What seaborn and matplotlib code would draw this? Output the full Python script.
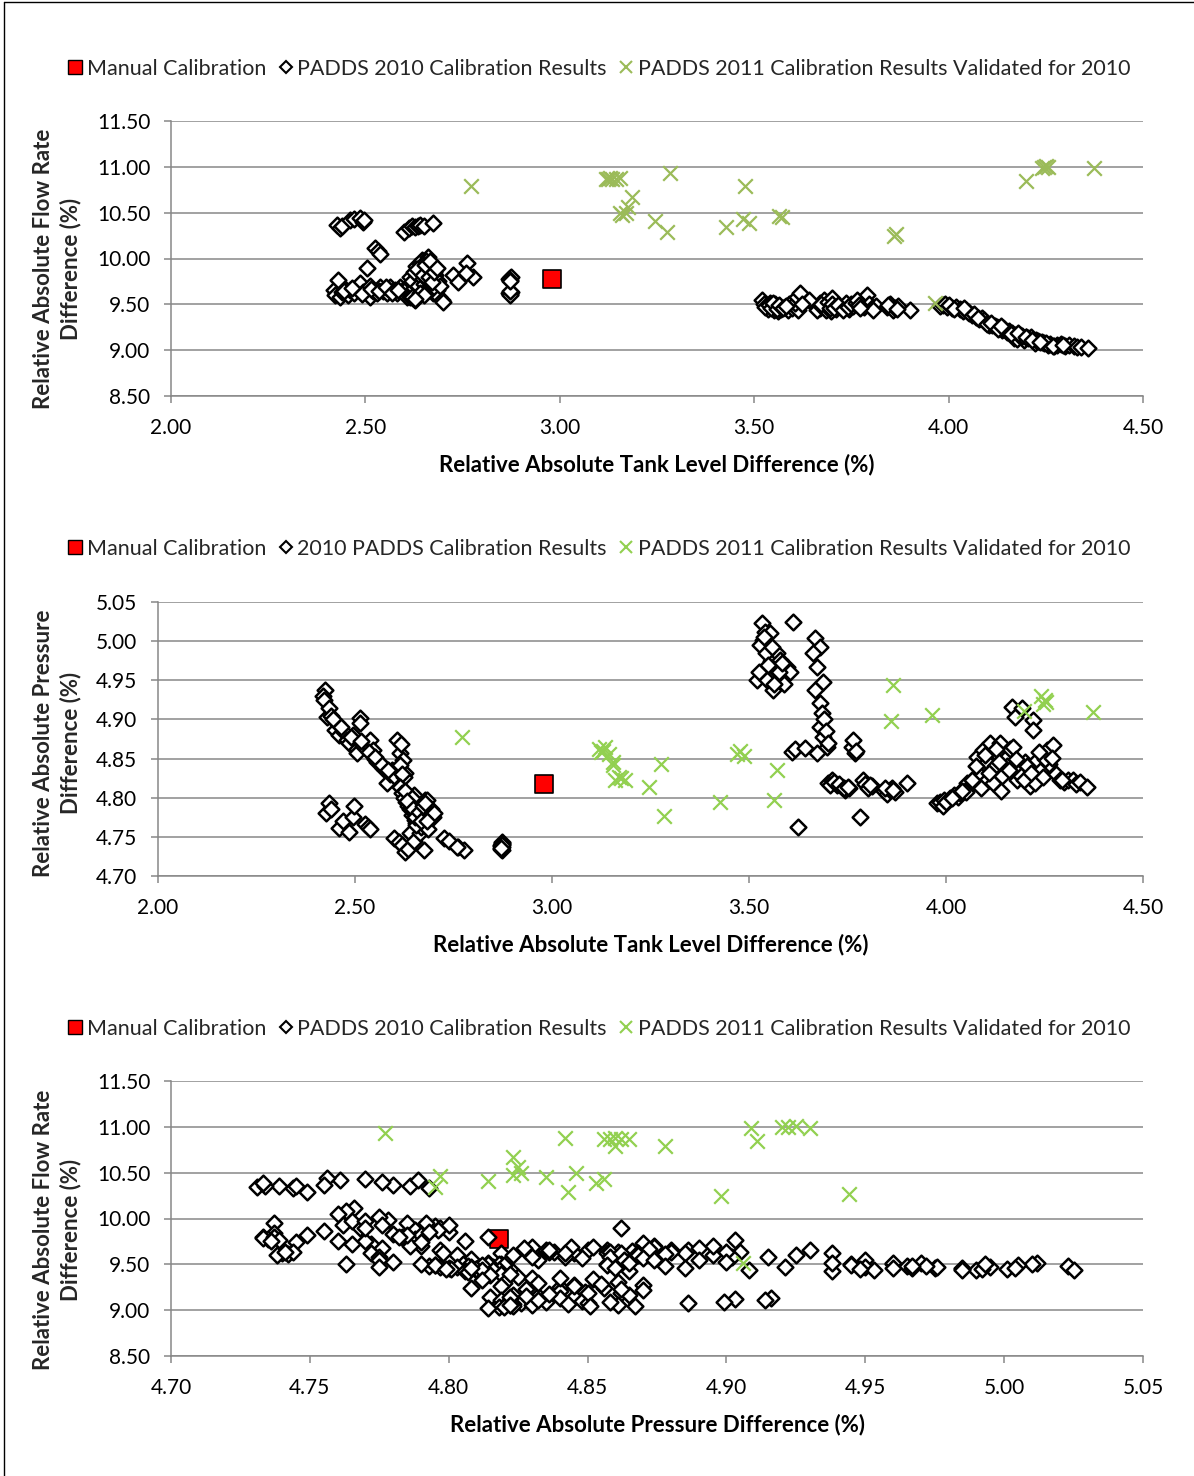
import matplotlib
matplotlib.use("Agg")
import matplotlib.pyplot as plt
import seaborn as sns
import pandas as pd
from matplotlib.lines import Line2D

# ---------------- data ----------------
# PADDS 2010 calibration results: tank level / flow rate / pressure differences (%)
tank_2010 = [
    2.427, 2.435, 2.440, 2.460, 2.470, 2.486, 2.494, 2.497,
    2.600, 2.612, 2.620, 2.628, 2.635, 2.640, 2.650, 2.674,
    2.525, 2.533, 2.538,
    2.424, 2.419, 2.422, 2.429, 2.435, 2.440, 2.449, 2.455, 2.460, 2.470, 2.480, 2.486, 2.495, 2.504, 2.505, 2.512, 2.513, 2.520, 2.530,
    2.538, 2.546, 2.550, 2.556, 2.563, 2.570, 2.575, 2.581, 2.589, 2.595, 2.600, 2.607, 2.614, 2.618, 2.622, 2.627, 2.615, 2.624, 2.619,
    2.445, 2.465, 2.490, 2.515, 2.535, 2.552, 2.568, 2.585,
    2.614, 2.620, 2.625, 2.630, 2.635, 2.640, 2.643, 2.645, 2.647, 2.650, 2.652, 2.655, 2.658, 2.660, 2.662, 2.665, 2.668,
    2.670, 2.673, 2.675, 2.678, 2.680, 2.683, 2.686, 2.690, 2.692, 2.698, 2.700, 2.640, 2.650, 2.628, 2.660, 2.655, 2.645,
    2.632, 2.648, 2.653, 2.663, 2.667, 2.672, 2.677, 2.684,
    2.725, 2.738, 2.761, 2.777, 2.759,
    2.870, 2.872, 2.874, 2.871, 2.873, 2.870, 2.872, 2.874, 2.873, 2.871,
    3.520, 3.525, 3.533, 3.536, 3.540, 3.546, 3.550, 3.553, 3.556, 3.561, 3.565, 3.570, 3.579, 3.586, 3.590, 3.596, 3.612, 3.605,
    3.528, 3.538, 3.544, 3.548, 3.558, 3.563, 3.575, 3.583,
    3.668, 3.680, 3.662, 3.672, 3.688, 3.668, 3.680, 3.685, 3.680, 3.688, 3.698, 3.672, 3.690, 3.695, 3.700,
    3.609, 3.618, 3.642, 3.624,
    3.700, 3.710, 3.723, 3.735, 3.744, 3.755, 3.782, 3.789, 3.795, 3.802, 3.812, 3.842, 3.850, 3.857, 3.862, 3.870, 3.901,
    3.705, 3.715, 3.728, 3.740, 3.750, 3.806, 3.845, 3.866,
    3.761, 3.764, 3.769, 3.772,
    3.978, 3.985, 3.992, 3.996, 4.010, 4.020, 4.030, 4.036, 4.045, 4.053, 4.061, 4.070, 4.079, 4.085, 4.094, 4.100, 4.105, 4.112, 4.119,
    4.124, 4.130, 4.137, 4.143, 4.150, 4.155, 4.162, 4.168, 4.170, 4.175, 4.180, 4.184, 4.193, 4.200, 4.205, 4.212, 4.221, 4.221, 4.225,
    4.231, 4.240, 4.246, 4.256, 4.262, 4.272, 4.280, 4.289, 4.300, 4.310, 4.322, 4.330, 4.340, 4.358, 4.050, 4.090, 4.140, 4.190, 4.250,
    4.000, 4.015, 4.040, 4.065, 4.075, 4.098, 4.110, 4.128, 4.135, 4.160, 4.178, 4.198, 4.215, 4.235, 4.268, 4.295,
]
flow_2010 = [
    10.37, 10.33, 10.35, 10.42, 10.43, 10.44, 10.40, 10.42,
    10.29, 10.33, 10.35, 10.34, 10.36, 10.37, 10.35, 10.39,
    10.11, 10.08, 10.05,
    9.62, 9.66, 9.60, 9.77, 9.58, 9.63, 9.66, 9.60, 9.66, 9.62, 9.70, 9.73, 9.63, 9.90, 9.66, 9.58, 9.70, 9.65, 9.62,
    9.69, 9.64, 9.66, 9.62, 9.69, 9.64, 9.66, 9.62, 9.69, 9.64, 9.65, 9.58, 9.62, 9.60, 9.57, 9.55, 9.58, 9.68, 9.58,
    9.64, 9.68, 9.61, 9.67, 9.64, 9.69, 9.62, 9.66,
    9.80, 9.75, 9.85, 9.92, 9.70, 9.95, 9.88, 9.98, 9.78, 9.83, 9.72, 9.90, 9.95, 9.68, 9.76, 9.86, 9.93,
    9.80, 9.62, 9.72, 9.90, 9.82, 9.66, 9.76, 9.58, 9.70, 9.55, 9.53, 9.62, 9.60, 9.56, 10.02, 9.97, 9.93,
    9.88, 9.82, 9.93, 9.80, 9.97, 9.74, 9.85, 9.90,
    9.82, 9.74, 9.95, 9.80, 9.84,
    9.62, 9.61, 9.63, 9.60, 9.64, 9.78, 9.79, 9.80, 9.77, 9.76,
    9.55, 9.50, 9.48, 9.45, 9.52, 9.47, 9.44, 9.50, 9.46, 9.43, 9.48, 9.45, 9.47, 9.44, 9.50, 9.46, 9.44, 9.52,
    9.47, 9.49, 9.46, 9.51, 9.45, 9.49, 9.46, 9.48,
    9.46, 9.50, 9.44, 9.48, 9.45, 9.52, 9.47, 9.44, 9.55, 9.48, 9.43, 9.50, 9.53, 9.46, 9.57,
    9.58, 9.62, 9.55, 9.50,
    9.50, 9.45, 9.47, 9.52, 9.45, 9.48, 9.47, 9.60, 9.50, 9.46, 9.48, 9.47, 9.50, 9.44, 9.46, 9.48, 9.44,
    9.46, 9.49, 9.44, 9.47, 9.50, 9.44, 9.49, 9.45,
    9.52, 9.55, 9.49, 9.46,
    9.48, 9.49, 9.50, 9.47, 9.46, 9.47, 9.45, 9.43, 9.44, 9.40, 9.38, 9.36, 9.34, 9.35, 9.31, 9.30, 9.28, 9.27, 9.26,
    9.25, 9.24, 9.22, 9.23, 9.20, 9.21, 9.19, 9.13, 9.17, 9.12, 9.17, 9.16, 9.11, 9.14, 9.13, 9.14, 9.09, 9.08, 9.11,
    9.10, 9.09, 9.08, 9.06, 9.07, 9.05, 9.06, 9.07, 9.05, 9.06, 9.05, 9.04, 9.04, 9.02, 9.42, 9.33, 9.24, 9.15, 9.08,
    9.49, 9.45, 9.46, 9.39, 9.35, 9.29, 9.30, 9.23, 9.26, 9.18, 9.19, 9.14, 9.11, 9.09, 9.05, 9.06,
]
pres_2010 = [
    4.780, 4.793, 4.786, 4.761, 4.770, 4.756, 4.776, 4.789,
    4.749, 4.744, 4.739, 4.731, 4.734, 4.755, 4.745, 4.733,
    4.766, 4.763, 4.760,
    4.938, 4.930, 4.925, 4.903, 4.915, 4.905, 4.886, 4.895, 4.880, 4.885, 4.874, 4.870, 4.880, 4.862, 4.857, 4.902, 4.895, 4.866, 4.868,
    4.874, 4.861, 4.850, 4.845, 4.844, 4.838, 4.835, 4.819, 4.830, 4.836, 4.828, 4.874, 4.857, 4.868, 4.848, 4.832, 4.842, 4.827, 4.830,
    4.900, 4.890, 4.878, 4.872, 4.858, 4.852, 4.842, 4.836,
    4.814, 4.806, 4.800, 4.795, 4.790, 4.785, 4.788, 4.778, 4.788, 4.780, 4.772, 4.768, 4.792, 4.776, 4.770, 4.755, 4.762,
    4.783, 4.772, 4.765, 4.797, 4.790, 4.797, 4.760, 4.775, 4.786, 4.775, 4.780, 4.798, 4.803, 4.808, 4.775, 4.765, 4.800,
    4.796, 4.785, 4.776, 4.782, 4.770, 4.790, 4.793, 4.770,
    4.749, 4.745, 4.737, 4.733, 4.737,
    4.740, 4.742, 4.744, 4.738, 4.741, 4.735, 4.733, 4.737, 4.739, 4.736,
    4.950, 4.960, 5.023, 5.001, 5.012, 4.950, 4.990, 5.010, 4.975, 4.938, 4.965, 4.985, 4.976, 4.953, 4.945, 4.967, 5.025, 4.960,
    4.995, 5.005, 4.985, 4.970, 4.992, 4.945, 4.960, 4.972,
    5.004, 4.993, 4.985, 4.967, 4.948, 4.938, 4.921, 4.908, 4.890, 4.878, 4.865, 4.857, 4.900, 4.885, 4.870,
    4.858, 4.862, 4.863, 4.763,
    4.819, 4.822, 4.816, 4.814, 4.810, 4.812, 4.775, 4.823, 4.818, 4.812, 4.815, 4.808, 4.805, 4.810, 4.812, 4.807, 4.819,
    4.816, 4.820, 4.818, 4.812, 4.814, 4.816, 4.812, 4.810,
    4.865, 4.874, 4.857, 4.860,
    4.793, 4.795, 4.790, 4.797, 4.800, 4.803, 4.801, 4.806, 4.812, 4.819, 4.815, 4.825, 4.852, 4.830, 4.861, 4.820, 4.845, 4.870, 4.819,
    4.840, 4.856, 4.870, 4.828, 4.849, 4.840, 4.862, 4.916, 4.865, 4.903, 4.823, 4.832, 4.914, 4.845, 4.840, 4.815, 4.899, 4.886, 4.819,
    4.848, 4.835, 4.826, 4.861, 4.843, 4.867, 4.830, 4.823, 4.820, 4.822, 4.823, 4.818, 4.820, 4.814, 4.807, 4.812, 4.808, 4.828, 4.850,
    4.795, 4.799, 4.808, 4.822, 4.840, 4.855, 4.832, 4.862, 4.845, 4.836, 4.850, 4.822, 4.832, 4.858, 4.851, 4.822,
]

# PADDS 2011 calibration results validated for 2010
tank_2011 = [2.772, 3.120, 3.125, 3.130, 3.135, 3.145, 3.155, 3.283, 3.186, 3.175, 3.170, 3.155, 3.160, 3.245, 3.276,
             3.427, 3.476, 3.470, 3.487, 3.563, 3.571, 3.865, 3.860, 3.965, 4.199, 4.240, 4.245, 4.250, 4.255, 4.374]
flow_2011 = [10.79, 10.87, 10.87, 10.88, 10.87, 10.87, 10.88, 10.93, 10.67, 10.56, 10.50, 10.50, 10.47, 10.41, 10.29,
             10.34, 10.79, 10.43, 10.39, 10.46, 10.45, 10.27, 10.25, 9.51, 10.85, 10.99, 11.00, 11.01, 11.00, 10.99]
pres_2011 = [4.878, 4.862, 4.858, 4.860, 4.865, 4.856, 4.842, 4.777, 4.823, 4.825, 4.826, 4.846, 4.823, 4.814, 4.843,
             4.795, 4.860, 4.856, 4.853, 4.797, 4.835, 4.944, 4.898, 4.906, 4.911, 4.930, 4.920, 4.925, 4.922, 4.909]

# Manual calibration
tank_manual = [2.98]
flow_manual = [9.78]
pres_manual = [4.818]

label_manual = "Manual Calibration"
label_2010_a = "PADDS 2010 Calibration Results"
label_2010_b = "2010 PADDS Calibration Results"
label_2011 = "PADDS 2011 Calibration Results Validated for 2010"
xlabel_tank = "Relative Absolute Tank Level Difference (%)"
xlabel_pres = "Relative Absolute Pressure Difference (%)"
ylabel_flow = "Relative Absolute Flow Rate\nDifference (%)"
ylabel_pres = "Relative Absolute Pressure\nDifference (%)"

# ---------------- plotting ----------------
sns.set_theme(style="white")
plt.rcParams['font.family'] = ['Lato', 'DejaVu Sans']

df10 = pd.DataFrame({"tank": tank_2010, "flow": flow_2010, "pres": pres_2010})
df11 = pd.DataFrame({"tank": tank_2011, "flow": flow_2011, "pres": pres_2011})
dfm = pd.DataFrame({"tank": tank_manual, "flow": flow_manual, "pres": pres_manual})

W, H = 1194, 1476
fig = plt.figure(figsize=(W / 100, H / 100), dpi=100)
fig.patch.set_facecolor("white")

GRID = "#878787"
FS = 15
FS_LAB = 16
FS_LEG = 15.5

panels = [
    dict(box=(171, 121, 1143, 396), x="tank", y="flow", xlim=(2.0, 4.5), xstep=0.5,
         ylim=(8.5, 11.5), ystep=0.5, xlabel=xlabel_tank, ylabel=ylabel_flow,
         lab10=label_2010_a, green="#9BBB59", legy=69, ylab_y=269),
    dict(box=(158, 602, 1143, 876), x="tank", y="pres", xlim=(2.0, 4.5), xstep=0.5,
         ylim=(4.70, 5.05), ystep=0.05, xlabel=xlabel_tank, ylabel=ylabel_pres,
         lab10=label_2010_b, green="#92D050", legy=549, ylab_y=743),
    dict(box=(171, 1081, 1143, 1356), x="pres", y="flow", xlim=(4.70, 5.05), xstep=0.05,
         ylim=(8.5, 11.5), ystep=0.5, xlabel=xlabel_pres, ylabel=ylabel_flow,
         lab10=label_2010_a, green="#92D050", legy=1029, ylab_y=1230),
]

for p in panels:
    x0, y0, x1, y1 = p["box"]
    ax = fig.add_axes([x0 / W, 1 - y1 / H, (x1 - x0) / W, (y1 - y0) / H])
    sns.scatterplot(data=dfm, x=p["x"], y=p["y"], marker="s", s=175, color="#FF0000",
                    edgecolor="black", linewidth=1.2, ax=ax, zorder=3, legend=False)
    sns.scatterplot(data=df10, x=p["x"], y=p["y"], marker="D", s=64, color="white",
                    edgecolor="black", linewidth=1.8, ax=ax, zorder=4, legend=False)
    sns.scatterplot(data=df11, x=p["x"], y=p["y"], marker="x", s=110, color=p["green"],
                    linewidth=1.6, ax=ax, zorder=5, legend=False)

    ax.set_xlim(*p["xlim"])
    ax.set_ylim(*p["ylim"])
    nx = int(round((p["xlim"][1] - p["xlim"][0]) / p["xstep"]))
    ny = int(round((p["ylim"][1] - p["ylim"][0]) / p["ystep"]))
    ax.set_xticks([p["xlim"][0] + i * p["xstep"] for i in range(nx + 1)])
    ax.set_yticks([p["ylim"][0] + i * p["ystep"] for i in range(ny + 1)])
    ax.xaxis.set_major_formatter(matplotlib.ticker.FormatStrFormatter("%.2f"))
    ax.yaxis.set_major_formatter(matplotlib.ticker.FormatStrFormatter("%.2f"))

    ax.yaxis.grid(True, color=GRID, linewidth=1.1)
    ax.xaxis.grid(False)
    ax.set_axisbelow(True)
    for side in ("top", "right"):
        ax.spines[side].set_visible(False)
    for side in ("left", "bottom"):
        ax.spines[side].set_color(GRID)
        ax.spines[side].set_linewidth(1.1)
    ax.tick_params(axis="both", which="major", direction="out", length=5, width=1.1,
                   color=GRID, labelsize=FS, labelcolor="black", bottom=True, left=True)
    ax.tick_params(axis="x", pad=11)
    ax.tick_params(axis="y", pad=10)

    ax.set_xlabel(p["xlabel"], fontsize=FS_LAB, fontweight="bold", labelpad=11, color="black")
    ax.set_ylabel("")
    fig.text(57 / W, 1 - p["ylab_y"] / H, p["ylabel"], rotation=90, ha="center", va="center",
             fontsize=FS_LAB, fontweight="bold", multialignment="center", linespacing=1.3)

    handles = [
        Line2D([], [], linestyle="none", marker="s", markersize=9.5, markerfacecolor="#FF0000",
               markeredgecolor="black", markeredgewidth=1.0),
        Line2D([], [], linestyle="none", marker="D", markersize=6.3, markerfacecolor="white",
               markeredgecolor="black", markeredgewidth=1.5),
        Line2D([], [], linestyle="none", marker="x", markersize=9, markeredgecolor=p["green"],
               markeredgewidth=1.5),
    ]
    labels = [label_manual, p["lab10"], label_2011]
    fig.legend(handles, labels, loc="center", bbox_to_anchor=(598 / W, 1 - p["legy"] / H),
               ncol=3, frameon=False, fontsize=FS_LEG, handletextpad=0.1, columnspacing=0.45,
               handlelength=0.9, borderpad=0.0)

# outer frame (left and top edges visible in the reference)
fig.add_artist(Line2D([4 / W, 4 / W], [0, 1 - 2 / H], transform=fig.transFigure, color="black", lw=1.0))
fig.add_artist(Line2D([4 / W, 1], [1 - 2 / H, 1 - 2 / H], transform=fig.transFigure, color="black", lw=1.0))

fig.savefig("out.png", dpi=100, facecolor="white")
